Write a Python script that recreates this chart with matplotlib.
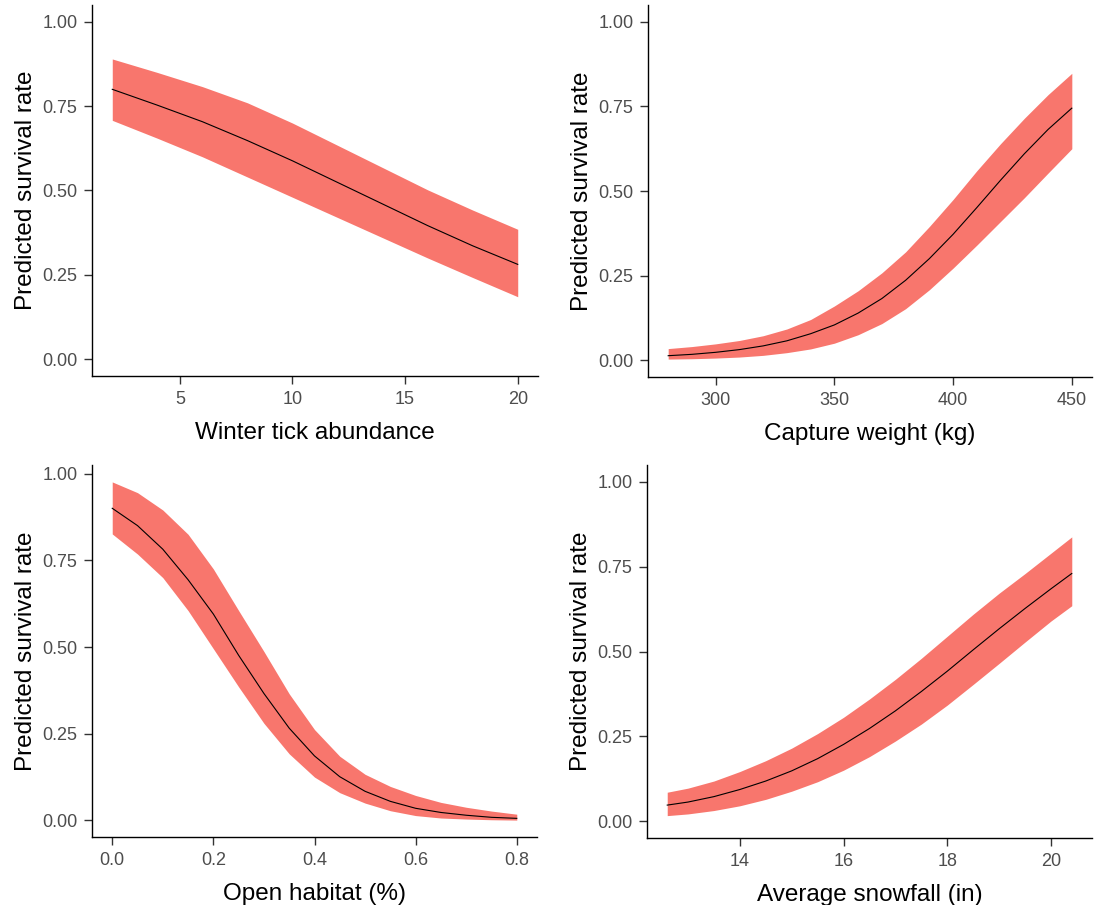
import matplotlib
matplotlib.use("Agg")
import matplotlib.pyplot as plt
import numpy as np

plt.rcParams['font.family'] = ['Liberation Sans', 'DejaVu Sans']

# panel 1: winter tick abundance
tick_x = [2, 4, 6, 8, 10, 12, 14, 16, 18, 20]
tick_fit = [0.800, 0.753, 0.704, 0.648, 0.588, 0.524, 0.460, 0.396, 0.336, 0.281]
tick_hi = [0.890, 0.850, 0.808, 0.760, 0.700, 0.634, 0.568, 0.502, 0.442, 0.385]
tick_lo = [0.708, 0.655, 0.600, 0.540, 0.480, 0.420, 0.360, 0.300, 0.242, 0.185]

# panel 2: capture weight
wt_x = [280, 290, 300, 310, 320, 330, 340, 350, 360, 370, 380, 390, 400, 410, 420, 430, 440, 450]
wt_fit = [0.013, 0.017, 0.023, 0.031, 0.042, 0.057, 0.078, 0.104, 0.139, 0.182, 0.236, 0.300,
          0.372, 0.451, 0.532, 0.610, 0.682, 0.745]
wt_hi = [0.034, 0.040, 0.048, 0.058, 0.072, 0.092, 0.120, 0.160, 0.205, 0.258, 0.320, 0.395,
         0.475, 0.560, 0.640, 0.715, 0.785, 0.848]
wt_lo = [0.003, 0.004, 0.006, 0.009, 0.014, 0.022, 0.033, 0.050, 0.075, 0.108, 0.152, 0.208,
         0.272, 0.340, 0.410, 0.480, 0.553, 0.625]

# panel 3: open habitat
open_x = [0.0, 0.05, 0.1, 0.15, 0.2, 0.25, 0.3, 0.35, 0.4, 0.45, 0.5, 0.55, 0.6, 0.65, 0.7, 0.75, 0.8]
open_fit = [0.900, 0.850, 0.782, 0.694, 0.595, 0.476, 0.366, 0.266, 0.186, 0.126, 0.084, 0.055,
            0.035, 0.023, 0.015, 0.009, 0.006]
open_hi = [0.976, 0.945, 0.895, 0.825, 0.725, 0.605, 0.487, 0.365, 0.262, 0.185, 0.133, 0.098,
           0.072, 0.052, 0.038, 0.027, 0.018]
open_lo = [0.826, 0.768, 0.700, 0.605, 0.495, 0.385, 0.280, 0.192, 0.125, 0.080, 0.050, 0.028,
           0.014, 0.007, 0.004, 0.002, 0.001]

# panel 4: average snowfall
snow_x = [12.6, 13, 13.5, 14, 14.5, 15, 15.5, 16, 16.5, 17, 17.5, 18, 18.5, 19, 19.5, 20, 20.4]
snow_fit = [0.047, 0.056, 0.072, 0.093, 0.118, 0.148, 0.184, 0.226, 0.273, 0.325, 0.382, 0.442,
            0.505, 0.567, 0.627, 0.685, 0.730]
snow_hi = [0.085, 0.097, 0.118, 0.146, 0.178, 0.215, 0.258, 0.306, 0.360, 0.418, 0.480, 0.545,
           0.610, 0.672, 0.730, 0.790, 0.838]
snow_lo = [0.016, 0.021, 0.031, 0.045, 0.064, 0.088, 0.116, 0.150, 0.190, 0.236, 0.286, 0.342,
           0.403, 0.465, 0.528, 0.590, 0.635]

W, H = 1096, 905
fig = plt.figure(figsize=(W / 100, H / 100), dpi=100)


def px_axes(x0, x1, y0, y1):
    # y0 = top, y1 = bottom, in image pixels
    return fig.add_axes([x0 / W, (H - y1) / H, (x1 - x0) / W, (y1 - y0) / H])


def panel(ax, x, fit, lo, hi, xlabel, xticks, xfmt, ylim=None):
    ax.fill_between(x, lo, hi, color='#F8766D', linewidth=0)
    ax.plot(x, fit, color='black', linewidth=0.8)
    xr = max(x) - min(x)
    ax.set_xlim(min(x) - 0.05 * xr, max(x) + 0.05 * xr)
    if ylim is None:
        ylim = (min(lo), max(hi))
    yr = ylim[1] - ylim[0]
    ax.set_ylim(ylim[0] - 0.05 * yr, ylim[1] + 0.05 * yr)
    ax.set_xticks(xticks)
    ax.set_xticklabels([xfmt.format(v) for v in xticks])
    ax.set_yticks([0, 0.25, 0.5, 0.75, 1.0])
    ax.set_yticklabels(['0.00', '0.25', '0.50', '0.75', '1.00'])
    for s in ['top', 'right']:
        ax.spines[s].set_visible(False)
    for s in ['left', 'bottom']:
        ax.spines[s].set_linewidth(1.0)
        ax.spines[s].set_color('black')
    ax.tick_params(length=5.5, width=1.0, color='#333333', labelcolor='#4D4D4D',
                   labelsize=13, pad=5)
    ax.set_xlabel(xlabel, fontsize=17.5, labelpad=10.5)
    ax.set_ylabel('Predicted survival rate', fontsize=17.5, labelpad=4)


ax1 = px_axes(92, 538, 5, 376)
panel(ax1, tick_x, tick_fit, tick_lo, tick_hi, 'Winter tick abundance', [5, 10, 15, 20], '{:g}', (0, 1))

ax2 = px_axes(648, 1092, 5, 377)
panel(ax2, wt_x, wt_fit, wt_lo, wt_hi, 'Capture weight (kg)', [300, 350, 400, 450], '{:g}', (0, 1))

ax3 = px_axes(92, 537, 465, 837)
panel(ax3, open_x, open_fit, open_lo, open_hi, 'Open habitat (%)', [0.0, 0.2, 0.4, 0.6, 0.8], '{:.1f}')

ax4 = px_axes(647, 1092, 465, 838)
panel(ax4, snow_x, snow_fit, snow_lo, snow_hi, 'Average snowfall (in)', [14, 16, 18, 20], '{:g}', (0, 1))

fig.savefig('out.png', dpi=100)
